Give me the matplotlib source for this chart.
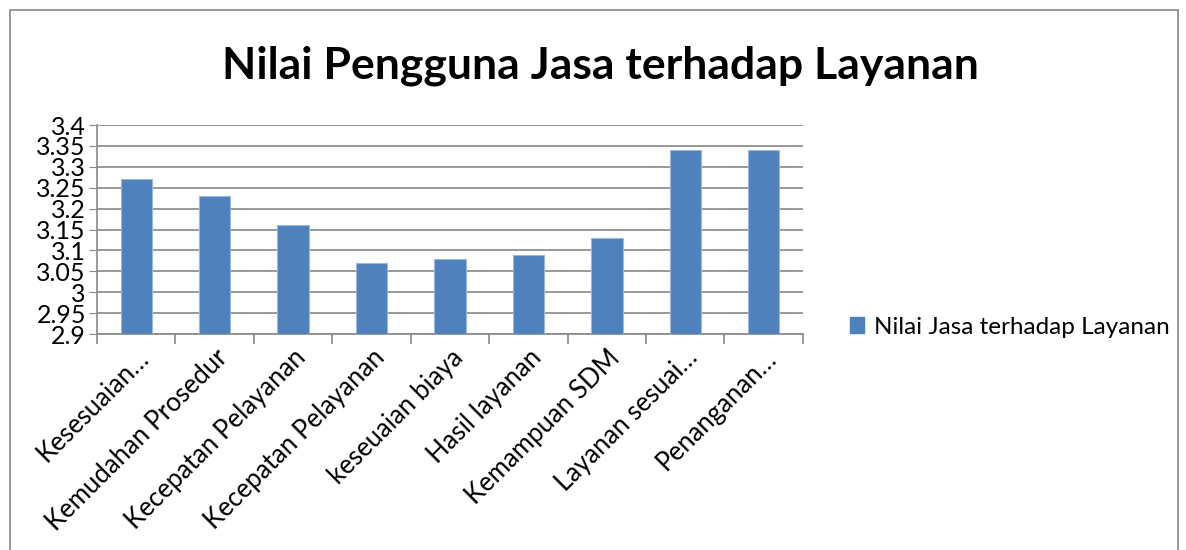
import matplotlib.pyplot as plt
import matplotlib.patches as mpatches
import numpy as np

plt.rcParams['font.family'] = ['Lato', 'DejaVu Sans']

# data
categories = ['Kesesuaian…', 'Kemudahan Prosedur', 'Kecepatan Pelayanan',
              'Kecepatan Pelayanan', 'keseuaian biaya', 'Hasil layanan',
              'Kemampuan SDM', 'Layanan sesuai…', 'Penanganan…']
values = [3.27, 3.23, 3.16, 3.07, 3.08, 3.09, 3.13, 3.34, 3.34]
yticks = [2.9, 2.95, 3.0, 3.05, 3.1, 3.15, 3.2, 3.25, 3.3, 3.35, 3.4]
ytick_labels = ['2.9', '2.95', '3', '3.05', '3.1', '3.15', '3.2', '3.25', '3.3', '3.35', '3.4']
series_name = 'Nilai Jasa terhadap Layanan'
bar_color = '#4F81BD'

fig = plt.figure(figsize=(11.86, 5.5), dpi=100)
ax = fig.add_axes([0.0818, 0.3927, 0.5952, 0.38])

x = np.arange(len(categories))
ax.bar(x, values, width=0.4, color=bar_color, edgecolor='#9BB7DA', linewidth=0.8,
       zorder=3, label=series_name)

ax.set_ylim(2.9, 3.4)
ax.set_xlim(-0.5, len(categories) - 0.5)
ax.set_yticks(yticks)
ax.set_yticklabels(ytick_labels, fontsize=18)
ax.yaxis.grid(True, color='#888888', linewidth=1.2, zorder=0)
ax.tick_params(axis='y', length=6, color='#888888', pad=2)

# category labels at bar centres, tick marks at the boundaries
ax.set_xticks(x)
ax.set_xticklabels(categories, rotation=45, ha='right', rotation_mode='anchor', fontsize=18.5)
ax.tick_params(axis='x', which='major', length=0, pad=8)
ax.set_xticks(np.arange(-0.5, len(categories)), minor=True)
ax.tick_params(axis='x', which='minor', length=7, color='#888888', width=1.2)

for s in ['top', 'right']:
    ax.spines[s].set_visible(False)
for s in ['left', 'bottom']:
    ax.spines[s].set_color('#888888')
    ax.spines[s].set_linewidth(1.2)

fig.text(0.506, 0.88, 'Nilai Pengguna Jasa terhadap Layanan', ha='center', va='center',
         fontsize=32, fontweight='bold')

handle = mpatches.Patch(color=bar_color, label=series_name)
fig.legend(handles=[handle], loc='center left', bbox_to_anchor=(0.698, 0.405),
           frameon=False, fontsize=17.5, handlelength=0.6, handleheight=0.6,
           handletextpad=0.4)

# outer chart border
fig.patches.append(mpatches.Rectangle((10 / 1186, -0.05), 1168 / 1186, 1.05 - 10 / 550,
                                      transform=fig.transFigure, fill=False,
                                      edgecolor='#888888', linewidth=1.2))

fig.savefig('out.png', dpi=100)
